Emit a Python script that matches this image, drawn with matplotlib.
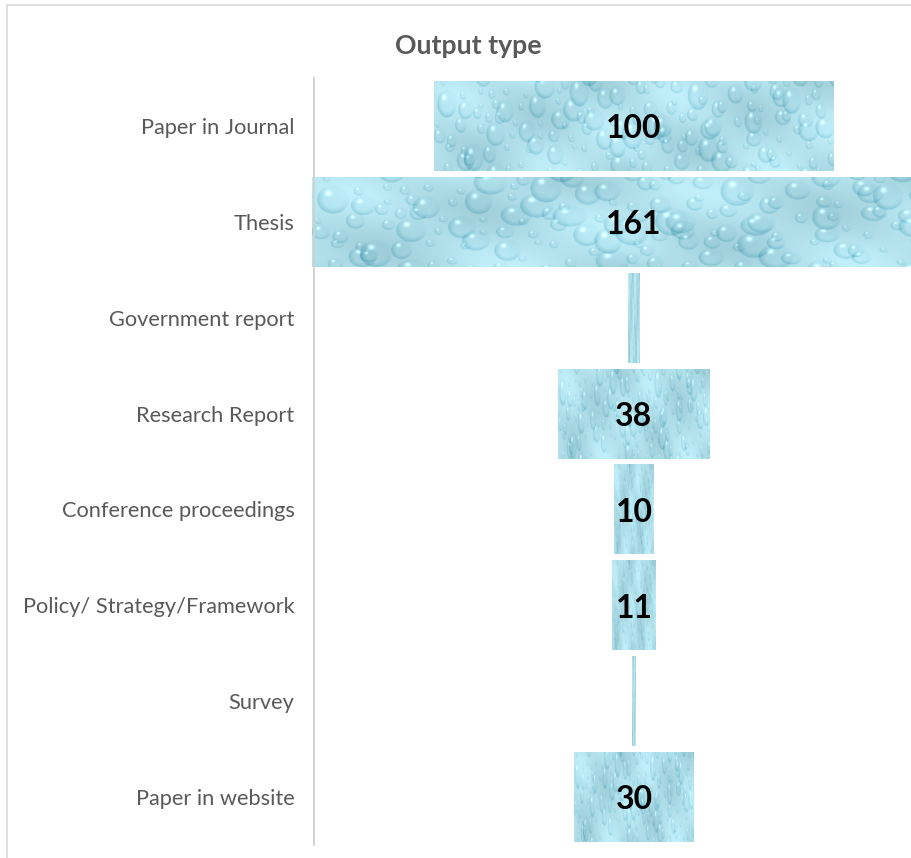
import numpy as np
import matplotlib
matplotlib.use("Agg")
import matplotlib.pyplot as plt
from matplotlib.patches import Rectangle

categories = ["Paper in Journal", "Thesis", "Government report", "Research Report",
              "Conference proceedings", "Policy/ Strategy/Framework", "Survey", "Paper in website"]
values = [100, 161, 3, 38, 10, 11, 1, 30]
value_labels = ["100", "161", "", "38", "10", "11", "", "30"]
title = "Output type"

FONT = ["Lato", "DejaVu Sans"]
W, H = 911, 858
fig = plt.figure(figsize=(W / 100, H / 100), dpi=100)

# chart-area border (light gray)
fig.add_artist(Rectangle((7 / W, -0.1), 1.2, 1 - 5 / H + 0.1, transform=fig.transFigure,
                         fill=False, edgecolor="#d9d9d9", linewidth=1.2))

ax_left, ax_right = 314 / W, 1.0
ax_bottom, ax_top = 1 - 845 / H, 1 - 78 / H
ax = fig.add_axes([ax_left, ax_bottom, ax_right - ax_left, ax_top - ax_bottom])
ax.patch.set_alpha(0)

# droplet texture (decorative, deterministic)
def make_texture(h=300, w=1300):
    yy, xx = np.mgrid[0:h, 0:w].astype(float)
    base = np.array([0.70, 0.88, 0.92])
    img = np.ones((h, w, 3)) * base
    shade = 0.035 * np.sin(xx / 110.0 + yy / 70.0) + 0.025 * np.cos(xx / 57.0 - yy / 43.0)
    img += shade[..., None]
    def hsh(a, b):
        v = np.sin(a * 12.9898 + b * 78.233) * 43758.5453
        return v - np.floor(v)
    step = 52
    for i in range(-1, h // step + 2):
        for j in range(-1, w // step + 2):
            r = 9 + 26 * hsh(i, j) ** 1.6
            cx = j * step + step * hsh(i + 0.3, j + 1.7)
            cy = i * step + step * hsh(i + 2.1, j + 0.9)
            ry = r * (1.0 + 0.5 * hsh(i + 4.4, j + 3.3))
            y0, y1 = int(max(cy - ry - 2, 0)), int(min(cy + ry + 2, h))
            x0, x1 = int(max(cx - r - 2, 0)), int(min(cx + r + 2, w))
            if y1 <= y0 or x1 <= x0:
                continue
            sy, sx = yy[y0:y1, x0:x1], xx[y0:y1, x0:x1]
            d = np.sqrt(((sx - cx) / r) ** 2 + ((sy - cy) / ry) ** 2)
            inside = d < 1
            rim = np.clip((d - 0.6) / 0.4, 0, 1) * inside
            ang = ((sx - cx) / r * -0.6 + (sy - cy) / ry * 0.8)
            dark = rim * np.clip(0.5 + ang, 0, 1) * 0.14
            hl = np.exp(-(((sx - cx + 0.3 * r) / r) ** 2 + ((sy - cy + 0.45 * ry) / ry) ** 2) / 0.03) * 0.25
            body = inside * 0.025
            patch = img[y0:y1, x0:x1]
            patch -= (dark + body)[..., None] * np.array([1.0, 0.6, 0.45])
            patch += (hl * inside)[..., None]
    return np.clip(img, 0, 1)

tex = make_texture()

y = np.arange(len(categories))
vals = np.array(values, dtype=float)
bars = ax.barh(y, vals, left=-vals / 2, height=0.94, color="none", edgecolor="none", zorder=2)
for b in bars:
    x0, y0 = b.get_x(), b.get_y()
    w, h = b.get_width(), b.get_height()
    im = ax.imshow(tex, extent=[x0, x0 + w, y0 + h, y0], aspect="auto", zorder=1,
                   interpolation="bilinear")
    im.set_clip_path(b)

for yi, lab in zip(y, value_labels):
    if lab:
        ax.text(0, yi + 0.03, lab, ha="center", va="center", fontsize=23,
                fontweight="bold", color="black", family=FONT, zorder=3)

ax.set_xlim(-80, (911 - 634) / 4.0)
ax.set_ylim(len(categories) - 0.5, -0.5)
ax.set_yticks(y)
ax.set_yticklabels(categories, family=FONT, fontsize=15.7, color="#595959")
ax.tick_params(axis="y", length=0, pad=14)
ax.set_xticks([])
for s in ["top", "right", "bottom"]:
    ax.spines[s].set_visible(False)
ax.spines["left"].set_color("#d0d0d0")
ax.spines["left"].set_linewidth(1.3)

fig.text(468 / W, 1 - 46 / H, title, ha="center", va="center", fontsize=19.2,
         fontweight="bold", color="#595959", family=FONT)

fig.savefig("out.png", dpi=100, facecolor="white")
